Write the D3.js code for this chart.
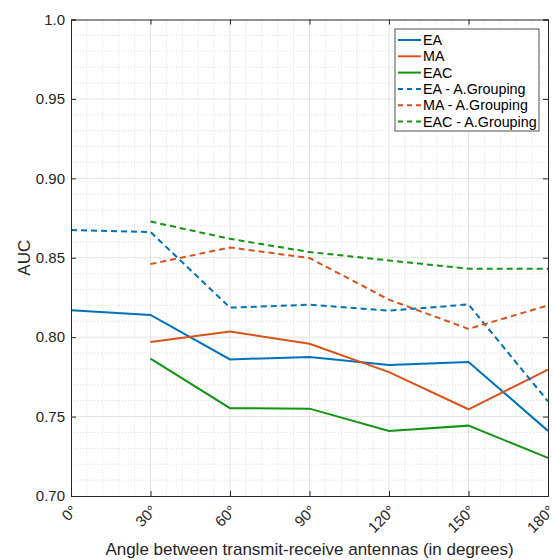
<!DOCTYPE html>
<html lang="en">
<head>
    <meta charset="UTF-8">
    <title>AUC vs antenna angle</title>
    <style>
        body {
            margin: 0;
            background: #fff;
            font-family: Arial, "Liberation Sans", sans-serif;
        }
    </style>
</head>
<body>
<div id="chart"></div>

<script src="https://d3js.org/d3.v7.min.js"></script>
<script>
    // angles in degrees
    const angles = [0, 30, 60, 90, 120, 150, 180];
    const anglesFrom30 = [30, 60, 90, 120, 150, 180];

    const ea = [0.817, 0.814, 0.786, 0.7875, 0.7825, 0.7844, 0.741];
    const ma = [0.797, 0.8035, 0.7958, 0.778, 0.7546, 0.7796];
    const eac = [0.7865, 0.7553, 0.755, 0.741, 0.7443, 0.724];
    const eaGroup = [0.8674, 0.8662, 0.8186, 0.8204, 0.8167, 0.8206, 0.7596];
    const maGroup = [0.846, 0.8565, 0.8498, 0.8236, 0.8052, 0.82];
    const eacGroup = [0.8728, 0.8619, 0.8536, 0.8483, 0.8431, 0.8431];

    const yTicks = [0.70, 0.75, 0.80, 0.85, 0.90, 0.95, 1.0];
    const yTickLabels = ["0.70", "0.75", "0.80", "0.85", "0.90", "0.95", "1.0"];

    const series = [
        { name: "EA", x: angles, y: ea, color: "#0072BD", dash: null },
        { name: "MA", x: anglesFrom30, y: ma, color: "#D95319", dash: null },
        { name: "EAC", x: anglesFrom30, y: eac, color: "#139413", dash: null },
        { name: "EA - A.Grouping", x: angles, y: eaGroup, color: "#0072BD", dash: "6,4" },
        { name: "MA - A.Grouping", x: anglesFrom30, y: maGroup, color: "#D95319", dash: "6,4" },
        { name: "EAC - A.Grouping", x: anglesFrom30, y: eacGroup, color: "#139413", dash: "6,4" }
    ];

    const width = 553;
    const height = 560;
    const margin = { top: 19.5, right: 5, bottom: 64, left: 71 };
    const innerW = width - margin.left - margin.right;
    const innerH = height - margin.top - margin.bottom;

    const svg = d3.select("#chart")
        .append("svg")
        .attr("width", width)
        .attr("height", height);

    const g = svg.append("g")
        .attr("transform", `translate(${margin.left},${margin.top})`);

    const x = d3.scaleLinear().domain([0, 180]).range([0, innerW]);
    const y = d3.scaleLinear().domain([0.7, 1.0]).range([innerH, 0]);

    // minor grid (dotted)
    const minorX = d3.range(0, 181, 6).filter(d => d % 30 !== 0);
    const minorY = d3.range(70, 101, 1).filter(d => d % 5 !== 0).map(d => d / 100);

    g.append("g").selectAll("line")
        .data(minorX)
        .enter().append("line")
        .attr("x1", d => x(d)).attr("x2", d => x(d))
        .attr("y1", 0).attr("y2", innerH)
        .attr("stroke", "#dcdcdc")
        .attr("stroke-dasharray", "1,2");

    g.append("g").selectAll("line")
        .data(minorY)
        .enter().append("line")
        .attr("x1", 0).attr("x2", innerW)
        .attr("y1", d => y(d)).attr("y2", d => y(d))
        .attr("stroke", "#dcdcdc")
        .attr("stroke-dasharray", "1,2");

    // major grid
    g.append("g").selectAll("line")
        .data(angles.slice(1, -1))
        .enter().append("line")
        .attr("x1", d => x(d)).attr("x2", d => x(d))
        .attr("y1", 0).attr("y2", innerH)
        .attr("stroke", "#e3e3e3");

    g.append("g").selectAll("line")
        .data(yTicks.slice(1, -1))
        .enter().append("line")
        .attr("x1", 0).attr("x2", innerW)
        .attr("y1", d => y(d)).attr("y2", d => y(d))
        .attr("stroke", "#e3e3e3");

    // data lines
    const line = d3.line()
        .x(d => x(d[0]))
        .y(d => y(d[1]));

    series.forEach(s => {
        g.append("path")
            .datum(s.x.map((a, i) => [a, s.y[i]]))
            .attr("fill", "none")
            .attr("stroke", s.color)
            .attr("stroke-width", 2)
            .attr("stroke-dasharray", s.dash)
            .attr("d", line);
    });

    // axes
    const axisColor = "#262626";
    const xAxis = g.append("g")
        .attr("transform", `translate(0,${innerH})`)
        .call(d3.axisBottom(x).tickValues(angles).tickSize(-5).tickFormat(d => d + "°"));
    xAxis.selectAll("text")
        .attr("x", null)
        .attr("y", null)
        .attr("dy", "0.35em")
        .attr("text-anchor", "end")
        .attr("transform", "translate(3,12) rotate(-45)");

    const yAxis = g.append("g")
        .call(d3.axisLeft(y).tickValues(yTicks).tickSize(-5)
            .tickFormat((d, i) => yTickLabels[i]));
    yAxis.selectAll("text").attr("x", -6);

    // top and right box with inward ticks
    g.append("g")
        .call(d3.axisTop(x).tickValues(angles).tickSize(-5).tickFormat(""));
    g.append("g")
        .attr("transform", `translate(${innerW},0)`)
        .call(d3.axisRight(y).tickValues(yTicks).tickSize(-5).tickFormat(""));

    g.selectAll(".domain").attr("stroke", axisColor).attr("stroke-width", 1);
    g.selectAll(".tick line").attr("stroke", axisColor);
    g.selectAll(".tick text")
        .attr("fill", axisColor)
        .style("font-size", "15px")
        .style("font-family", "Arial, 'Liberation Sans', sans-serif");

    // axis titles
    svg.append("text")
        .attr("x", margin.left + innerW / 2)
        .attr("y", 555)
        .attr("text-anchor", "middle")
        .attr("fill", axisColor)
        .style("font-size", "17px")
        .text("Angle between transmit-receive antennas (in degrees)");

    svg.append("text")
        .attr("transform", `translate(30,${margin.top + innerH / 2}) rotate(-90)`)
        .attr("text-anchor", "middle")
        .attr("fill", axisColor)
        .style("font-size", "17px")
        .text("AUC");

    // legend
    const legend = svg.append("g").attr("transform", "translate(395,29)");
    legend.append("rect")
        .attr("width", 144)
        .attr("height", 102)
        .attr("fill", "#fff")
        .attr("stroke", axisColor)
        .attr("stroke-width", 0.8);

    series.forEach((s, i) => {
        const row = legend.append("g").attr("transform", `translate(0,${11 + i * 16.3})`);
        row.append("line")
            .attr("x1", 3).attr("x2", 26)
            .attr("stroke", s.color)
            .attr("stroke-width", 2)
            .attr("stroke-dasharray", s.dash ? "5,4" : null);
        row.append("text")
            .attr("x", 28)
            .attr("dy", "0.35em")
            .attr("fill", "#000")
            .style("font-size", "14.3px")
            .text(s.name);
    });
</script>
</body>
</html>
